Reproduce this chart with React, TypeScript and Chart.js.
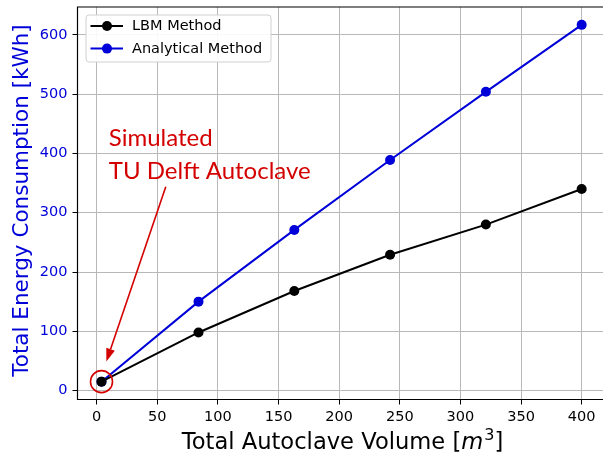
import React, { useEffect, useRef } from "react";
import { Chart, registerables } from "chart.js";

Chart.register(...registerables);

const volumes = [4, 84, 163, 242, 321, 400];
const lbmEnergy = [15, 98, 168, 229, 280, 340];
const analyticalEnergy = [15, 150, 271, 389, 504, 617];
const xTicks = [0, 50, 100, 150, 200, 250, 300, 350, 400];
const yTicks = [0, 100, 200, 300, 400, 500, 600];
const seriesNames = ["LBM Method", "Analytical Method"];
const annotationLines = ["Simulated", "TU Delft Autoclave"];
const annotationTextPos = { x: 10, y1: 413, y2: 357 };
const arrowStart = { x: 57, y: 344 };
const arrowTip = { x: 8, y: 49 };

const BLUE = "#0000d8";
const RED = "#d40000";
const FONT = "'DejaVu Sans', sans-serif";

const overlay = {
  id: "overlay",
  afterDraw(chart: any) {
    const { ctx, chartArea: ca, scales } = chart;
    const xs = scales.x, ys = scales.y;
    ctx.save();
    // frame (right spine falls outside the picture)
    ctx.strokeStyle = "#000";
    ctx.lineWidth = 1.2;
    ctx.beginPath();
    ctx.moveTo(ca.right + 2, ca.top);
    ctx.lineTo(ca.left, ca.top);
    ctx.lineTo(ca.left, ca.bottom);
    ctx.lineTo(ca.right + 2, ca.bottom);
    ctx.stroke();

    // circle
    const cx = xs.getPixelForValue(volumes[0]);
    const cy = ys.getPixelForValue(lbmEnergy[0]);
    ctx.strokeStyle = RED;
    ctx.lineWidth = 1.6;
    ctx.beginPath();
    ctx.arc(cx, cy, 11, 0, Math.PI * 2);
    ctx.stroke();

    // arrow
    const sx = xs.getPixelForValue(arrowStart.x), sy = ys.getPixelForValue(arrowStart.y);
    const tx = xs.getPixelForValue(arrowTip.x), ty = ys.getPixelForValue(arrowTip.y);
    const ang = Math.atan2(ty - sy, tx - sx);
    const headL = 13, headW = 4.5;
    const bx = tx - headL * Math.cos(ang), by = ty - headL * Math.sin(ang);
    ctx.strokeStyle = RED;
    ctx.fillStyle = RED;
    ctx.lineWidth = 1.6;
    ctx.beginPath();
    ctx.moveTo(sx, sy);
    ctx.lineTo(bx, by);
    ctx.stroke();
    ctx.beginPath();
    ctx.moveTo(tx, ty);
    ctx.lineTo(bx + headW * Math.sin(ang), by - headW * Math.cos(ang));
    ctx.lineTo(bx - headW * Math.sin(ang), by + headW * Math.cos(ang));
    ctx.closePath();
    ctx.fill();

    // annotation text
    ctx.font = "24px Lato, 'Open Sans', sans-serif";
    ctx.textAlign = "left";
    ctx.textBaseline = "alphabetic";
    const ax = xs.getPixelForValue(annotationTextPos.x);
    ctx.fillText(annotationLines[0], ax, ys.getPixelForValue(annotationTextPos.y1));
    ctx.fillText(annotationLines[1], ax, ys.getPixelForValue(annotationTextPos.y2));

    // legend
    const lx = ca.left + 8.5, ly = ca.top + 8, lw = 185, lh = 47;
    ctx.fillStyle = "rgba(255,255,255,0.9)";
    ctx.strokeStyle = "#d0d0d0";
    ctx.lineWidth = 1;
    ctx.beginPath();
    (ctx as any).roundRect(lx, ly, lw, lh, 3);
    ctx.fill();
    ctx.stroke();
    const colors = ["#000000", BLUE];
    ctx.font = `14.5px ${FONT}`;
    ctx.textBaseline = "middle";
    for (let i = 0; i < 2; i++) {
      const yy = ly + 11 + i * 22.6;
      ctx.strokeStyle = colors[i];
      ctx.fillStyle = colors[i];
      ctx.lineWidth = 2;
      ctx.beginPath();
      ctx.moveTo(lx + 4.5, yy);
      ctx.lineTo(lx + 37, yy);
      ctx.stroke();
      ctx.beginPath();
      ctx.arc(lx + 21, yy, 5, 0, Math.PI * 2);
      ctx.fill();
      ctx.fillStyle = "#000";
      ctx.fillText(seriesNames[i], lx + 46, yy + 0.5);
    }

    // y title
    ctx.save();
    ctx.translate(22, 200.5);
    ctx.rotate(-Math.PI / 2);
    ctx.fillStyle = BLUE;
    ctx.font = `21.5px ${FONT}`;
    ctx.textAlign = "center";
    ctx.textBaseline = "middle";
    ctx.fillText("Total Energy Consumption [kWh]", 0, 0);
    ctx.restore();

    // x title with italic m and superscript 3
    const p1 = "Total Autoclave Volume [";
    const pm = "m";
    const p3 = "3";
    const p4 = "]";
    const fN = `22.6px ${FONT}`, fI = `italic 22.6px ${FONT}`, fS = `16px ${FONT}`;
    ctx.font = fN; const w1 = ctx.measureText(p1).width; const w4 = ctx.measureText(p4).width;
    ctx.font = fI; const wm = ctx.measureText(pm).width;
    ctx.font = fS; const w3 = ctx.measureText(p3).width;
    const total = w1 + wm + w3 + w4 + 1;
    let px = 342.5 - total / 2;
    const base = 449;
    ctx.fillStyle = "#000";
    ctx.textAlign = "left";
    ctx.textBaseline = "alphabetic";
    ctx.font = fN; ctx.fillText(p1, px, base); px += w1;
    ctx.font = fI; ctx.fillText(pm, px, base); px += wm + 1;
    ctx.font = fS; ctx.fillText(p3, px, base - 9); px += w3;
    ctx.font = fN; ctx.fillText(p4, px, base);
    ctx.restore();
  },
};

export default function App() {
  const ref = useRef<HTMLCanvasElement>(null);
  useEffect(() => {
    document.body.style.margin = "0";
    const chart = new Chart(ref.current!, {
      type: "line",
      data: {
        datasets: [
          {
            label: seriesNames[0],
            data: volumes.map((v, i) => ({ x: v, y: lbmEnergy[i] })),
            borderColor: "#000",
            backgroundColor: "#000",
            borderWidth: 2,
            pointRadius: 5,
            pointHoverRadius: 5,
            pointBorderWidth: 0,
          },
          {
            label: seriesNames[1],
            data: volumes.map((v, i) => ({ x: v, y: analyticalEnergy[i] })),
            borderColor: BLUE,
            backgroundColor: BLUE,
            borderWidth: 2,
            pointRadius: 5,
            pointHoverRadius: 5,
            pointBorderWidth: 0,
          },
        ],
      },
      options: {
        animation: false,
        responsive: false,
        layout: { autoPadding: false, padding: { top: 7, right: 0, left: 0, bottom: 0 } },
        plugins: { legend: { display: false }, tooltip: { enabled: false } },
        scales: {
          x: {
            type: "linear",
            min: -15.8,
            max: 417.6,
            afterBuildTicks: (s: any) => { s.ticks = xTicks.map((v) => ({ value: v })); },
            afterFit: (s: any) => { s.height = 56.5; s.paddingLeft = 0; s.paddingRight = 0; },
            grid: { color: "#b8b8b8", lineWidth: 1, tickColor: "#000", tickLength: 5, tickWidth: 1 },
            border: { display: false },
            ticks: { color: "#000", font: { family: "DejaVu Sans", size: 14.5 }, padding: 4, maxRotation: 0 },
          },
          y: {
            type: "linear",
            min: -15.1,
            max: 647.1,
            afterBuildTicks: (s: any) => { s.ticks = yTicks.map((v) => ({ value: v })); },
            afterFit: (s: any) => { s.width = 77.5; s.paddingTop = 0; s.paddingBottom = 0; },
            grid: { color: "#b8b8b8", lineWidth: 1, tickColor: "#000", tickLength: 5, tickWidth: 1 },
            border: { display: false },
            ticks: { color: BLUE, font: { family: "DejaVu Sans", size: 14.5 }, padding: 5 },
          },
        },
      },
      plugins: [overlay],
    } as any);
    return () => chart.destroy();
  }, []);
  return <canvas ref={ref} width={603} height={456} style={{ display: "block" }} />;
}
